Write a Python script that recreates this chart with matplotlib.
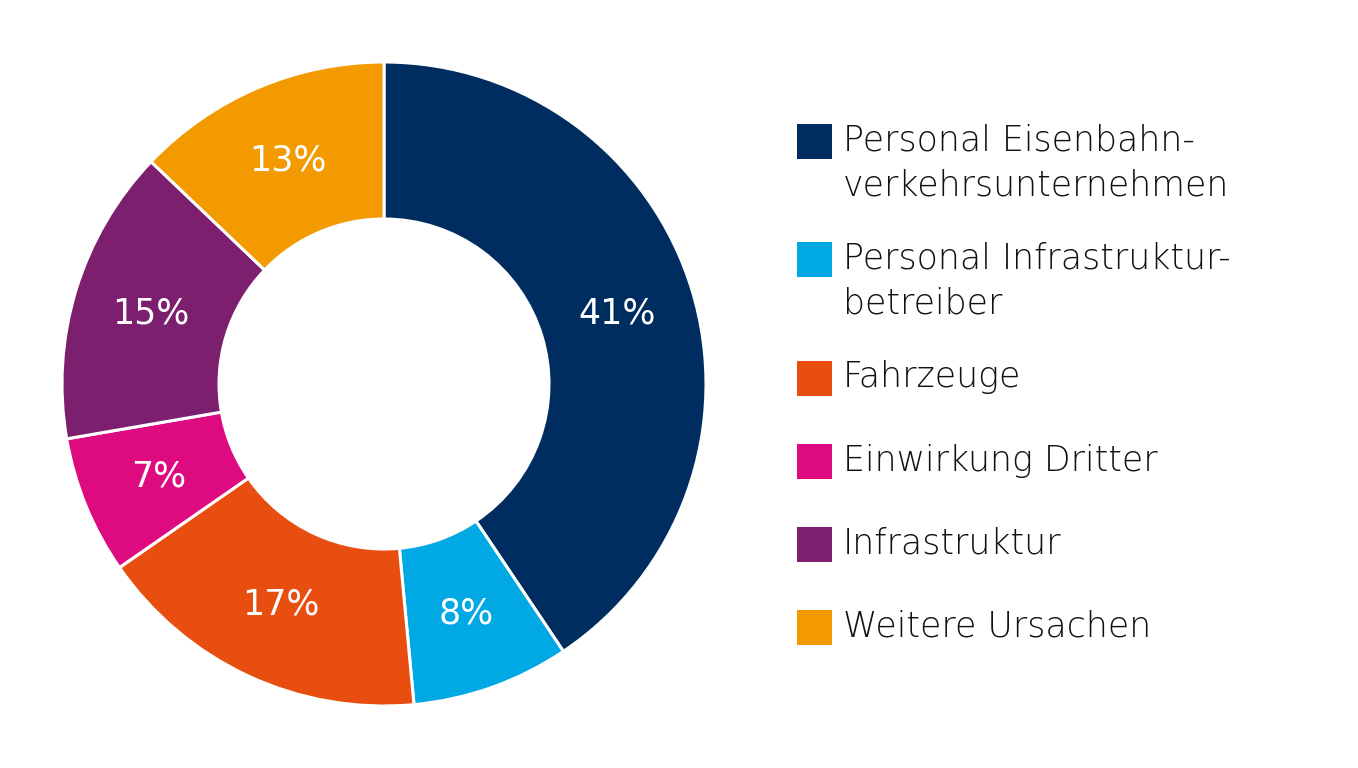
import matplotlib
matplotlib.use("Agg")
import matplotlib.pyplot as plt
from matplotlib.patches import Rectangle

# data
categories = ["Personal Eisenbahn-\nverkehrsunternehmen", "Personal Infrastruktur-\nbetreiber",
              "Fahrzeuge", "Einwirkung Dritter", "Infrastruktur", "Weitere Ursachen"]
shares = [41, 8, 17, 7, 15, 13]
pct_labels = ["41%", "8%", "17%", "7%", "15%", "13%"]
colors = ["#002d5f", "#00a8e4", "#e84e0f", "#de0a80", "#7b1f6e", "#f39a00"]

W, H = 1358, 768
fig = plt.figure(figsize=(W / 100, H / 100), dpi=100)

# donut: centre (384,384) px, radius 322 px
cx, cy, r = 384, 384, 322
ax = fig.add_axes([(cx - r) / W, (H - cy - r) / H, 2 * r / W, 2 * r / H])
hole = 165 / 322
wedges, texts = ax.pie(shares, colors=colors, labels=pct_labels, startangle=90, counterclock=False,
                       radius=1, labeldistance=(1 + hole) / 2,
                       wedgeprops=dict(width=1 - hole, edgecolor="white", linewidth=2.2),
                       textprops=dict(color="white", fontsize=25, family="DejaVu Sans"))
for t in texts:
    t.set_ha("center")
    t.set_va("center")
ax.set_xlim(-1, 1)
ax.set_ylim(-1, 1)
ax.set_aspect("equal")
ax.axis("off")

# legend
sq_x, sq = 797, 35
row_centers = [141, 259, 378, 461, 544, 627]
line_gap = 45
for c, lab, yc in zip(colors, categories, row_centers):
    fig.add_artist(Rectangle((sq_x / W, (H - yc - sq / 2) / H), sq / W, sq / H,
                             transform=fig.transFigure, color=c, lw=0))
    for i, line in enumerate(lab.split("\n")):
        fig.text(843 / W, (H - yc + 4 - i * line_gap) / H, line, ha="left", va="center_baseline",
                 fontsize=25, family="DejaVu Sans", fontweight="light", color="#111111")

fig.savefig("out.png", dpi=100, facecolor="white")
